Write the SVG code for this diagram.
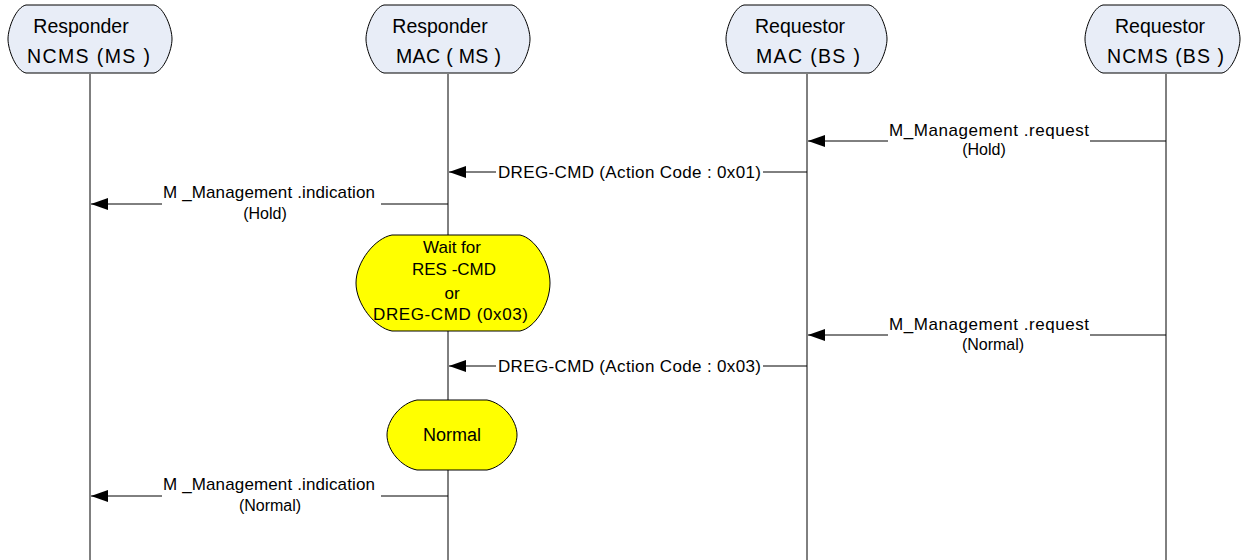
<svg xmlns="http://www.w3.org/2000/svg" width="1241" height="560" viewBox="0 0 1241 560">
<defs>
<style>
.hdr{fill:#e8edf7;stroke:#000;stroke-width:1}
.st{fill:#ffff00;stroke:#000;stroke-width:1}
.life{stroke:#000;stroke-width:1}
.msg{stroke:#000;stroke-width:1;fill:none}
.t{font-family:"Liberation Sans",Arial,sans-serif;fill:#000;text-anchor:middle}
.ls{text-anchor:start}
.th{font-size:19.5px}
.tm{font-size:17px}
.tp{font-size:16px}
.ts{font-size:17px}
</style>
<marker id="ah" markerWidth="18" markerHeight="12" refX="17" refY="6" orient="auto" markerUnits="userSpaceOnUse">
<path d="M0,0 L17,6 L0,12 Z" fill="#000"/>
</marker>
</defs>
<rect width="1241" height="560" fill="#fff"/>
<g id="lifelines">
<line class="life" x1="90" y1="74" x2="90" y2="560"/>
<line class="life" x1="448" y1="74" x2="448" y2="560"/>
<line class="life" x1="807" y1="74" x2="807" y2="560"/>
<line class="life" x1="1166" y1="74" x2="1166" y2="560"/>
</g>
<g id="node-resp-ncms">
<path class="hdr" d="M26,5 L154,5 C164,7 172,28 172,39 C172,50 164,71 154,73 L26,73 C16,71 8,50 8,39 C8,28 16,7 26,5 Z"/>
<text class="t th" x="81" y="33">Responder</text>
<text class="t th ls" x="27" y="63" textLength="123" lengthAdjust="spacing">NCMS   (MS )</text>
</g>
<g id="node-resp-mac">
<path class="hdr" d="M384,5 L512,5 C522,7 530,28 530,39 C530,50 522,71 512,73 L384,73 C374,71 366,50 366,39 C366,28 374,7 384,5 Z"/>
<text class="t th" x="440" y="33">Responder</text>
<text class="t th ls" x="396" y="63" textLength="105" lengthAdjust="spacing">MAC  ( MS )</text>
</g>
<g id="node-req-mac">
<path class="hdr" d="M744,5 L869,5 C879,7 887,28 887,39 C887,50 879,71 869,73 L744,73 C734,71 726,50 726,39 C726,28 734,7 744,5 Z"/>
<text class="t th" x="800" y="33">Requestor</text>
<text class="t th ls" x="756" y="63" textLength="104" lengthAdjust="spacing">MAC  (BS )</text>
</g>
<g id="node-req-ncms">
<path class="hdr" d="M1103,5 L1222,5 C1232,7 1240,28 1240,39 C1240,50 1232,71 1222,73 L1103,73 C1093,71 1085,50 1085,39 C1085,28 1093,7 1103,5 Z"/>
<text class="t th" x="1160" y="33">Requestor</text>
<text class="t th ls" x="1107" y="63" textLength="117" lengthAdjust="spacing">NCMS  (BS )</text>
</g>
<g id="connectors">
<line class="msg" x1="1166" y1="141" x2="1090" y2="141"/>
<line class="msg" x1="888" y1="141" x2="808" y2="141" marker-end="url(#ah)"/>
<text class="t tm ls" x="889" y="136" textLength="200" lengthAdjust="spacing">M_Management .request</text>
<text class="t tp" x="984" y="155">(Hold)</text>

<line class="msg" x1="807" y1="172" x2="763" y2="172"/>
<line class="msg" x1="496" y1="172" x2="449" y2="172" marker-end="url(#ah)"/>
<text class="t tm ls" x="498" y="178" textLength="263" lengthAdjust="spacing">DREG-CMD  (Action Code : 0x01)</text>

<line class="msg" x1="448" y1="204" x2="381" y2="204"/>
<line class="msg" x1="162" y1="204" x2="91" y2="204" marker-end="url(#ah)"/>
<text class="t tm ls" x="163" y="198" textLength="212" lengthAdjust="spacing">M _Management .indication</text>
<text class="t tp" x="265" y="219">(Hold)</text>

<line class="msg" x1="1166" y1="335" x2="1090" y2="335"/>
<line class="msg" x1="888" y1="335" x2="808" y2="335" marker-end="url(#ah)"/>
<text class="t tm ls" x="889" y="330" textLength="200" lengthAdjust="spacing">M_Management .request</text>
<text class="t tp" x="993" y="350">(Normal)</text>

<line class="msg" x1="807" y1="366" x2="763" y2="366"/>
<line class="msg" x1="496" y1="366" x2="449" y2="366" marker-end="url(#ah)"/>
<text class="t tm ls" x="498" y="372" textLength="263" lengthAdjust="spacing">DREG-CMD  (Action Code : 0x03)</text>

<line class="msg" x1="448" y1="496" x2="381" y2="496"/>
<line class="msg" x1="162" y1="496" x2="91" y2="496" marker-end="url(#ah)"/>
<text class="t tm ls" x="163" y="490" textLength="212" lengthAdjust="spacing">M _Management .indication</text>
<text class="t tp" x="270" y="511">(Normal)</text>
</g>
<g id="node-wait">
<path class="st" d="M392,235 L520,235 C535,238 550,262 550,283 C550,304 535,328 520,331 L392,331 C375,328 356,304 356,283 C356,262 375,238 392,235 Z"/>
<text class="t ts" x="452" y="253">Wait for</text>
<text class="t ts ls" x="412" y="275" textLength="84" lengthAdjust="spacing">RES -CMD</text>
<text class="t ts" x="452" y="299">or</text>
<text class="t ts ls" x="373" y="320" textLength="155" lengthAdjust="spacing">DREG-CMD  (0x03)</text>
</g>
<g id="node-normal">
<path class="st" d="M417,400 L487,400 C503,403 517,420 517,435 C517,450 503,467 487,470 L417,470 C401,467 387,450 387,435 C387,420 401,403 417,400 Z"/>
<text class="t" x="452" y="441" style="font-size:18px">Normal</text>
</g>
</svg>
